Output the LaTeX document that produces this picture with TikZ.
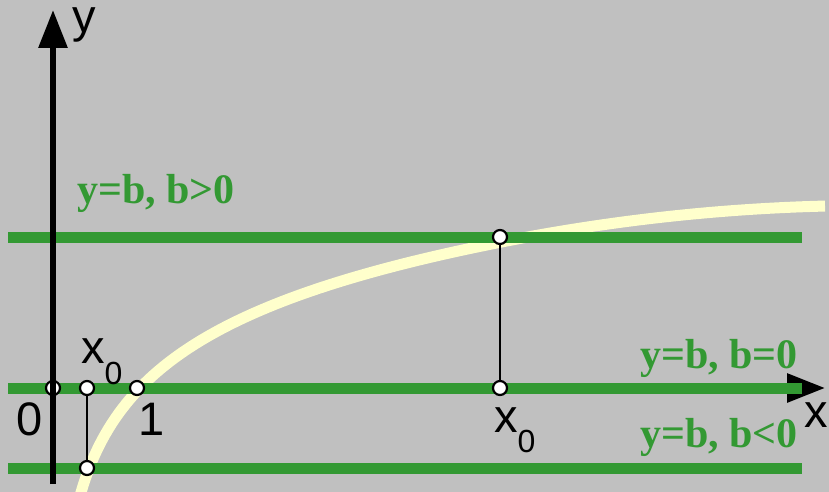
\documentclass[tikz,border=0pt]{standalone}
\usepackage{fontspec}
\setmainfont{Liberation Serif}
\newfontfamily\axisfont{Liberation Sans}
\usetikzlibrary{arrows.meta}
\definecolor{bggray}{HTML}{C0C0C0}
\definecolor{lgreen}{HTML}{339933}
\definecolor{lyellow}{HTML}{FFFFCC}
\begin{document}
\begin{tikzpicture}[x=1pt, y=-1pt,
    dot/.style = {circle, draw=black, fill=white, line width=2.2pt, inner sep=0pt, minimum size=14pt},
    level/.style = {line width=11pt, lgreen},
    axis/.style = {line width=6pt, -{Triangle[length=38pt,width=28pt]}},
    lbl/.style = {inner sep=0pt, anchor=base west, font=\axisfont\fontsize{47}{47}\selectfont},
    glbl/.style = {inner sep=0pt, anchor=base west, text=lgreen, font=\bfseries\fontsize{42}{42}\selectfont}]
    \fill[bggray] (0,0) rectangle (829,492);
    \useasboundingbox (0,0) rectangle (829,492);

    % logarithm curve
    \draw[lyellow, line width=11pt] plot[domain=80:500, samples=120] (\x, {388-88*ln((\x-55)/85)})
        -- plot[domain=500:825, samples=60] (\x, {242.3-0.198*(\x-500)+28.1*((\x-500)/325)^2});

    % x axis under the lines
    \coordinate (xs) at (8,388);
    \coordinate (xe) at (825,388);
    \draw[axis] (xs) -- (xe);

    % lines y=b
    \coordinate (bpL) at (8,237);   \coordinate (bpR) at (802,237);
    \coordinate (bzL) at (8,388);   \coordinate (bzR) at (802,388);
    \coordinate (bnL) at (8,468);   \coordinate (bnR) at (802,468);
    \draw[level] (bpL) -- (bpR);
    \draw[level] (bzL) -- (bzR);
    \draw[level] (bnL) -- (bnR);

    % origin dot, then y axis on top
    \node[dot] (O) at (53,388) {};
    \coordinate (ys) at (53,484);
    \coordinate (ye) at (53,10);
    \draw[axis] (ys) -- (ye);

    % points
    \node[dot] (Pone) at (137,388) {};
    \node[dot] (Pn) at (87,468) {};
    \node[dot] (Pnx) at (87,388) {};
    \node[dot] (Pp) at (500,237) {};
    \node[dot] (Ppx) at (500,388) {};
    \draw[line width=2.2pt] (Pn) -- (Pnx);
    \draw[line width=2.2pt] (Pp) -- (Ppx);

    % labels
    \node[lbl] (ylab) at (72,33) {y};
    \node[lbl] (xlab) at (804,427) {x};
    \node[lbl] (zero) at (16,435) {0};
    \node[lbl] (one) at (138,435) {1};
    \node[lbl] (xnl) at (81,363) {x\raisebox{-21pt}{\fontsize{32}{32}\selectfont 0}};
    \node[lbl] (xpl) at (494,432) {x\raisebox{-20pt}{\fontsize{32}{32}\selectfont 0}};
    \node[glbl] (tp) at (77,203) {y=b, b>0};
    \node[glbl] (tz) at (640,368) {y=b, b=0};
    \node[glbl] (tn) at (640,447) {y=b, b<0};
\end{tikzpicture}
\end{document}
